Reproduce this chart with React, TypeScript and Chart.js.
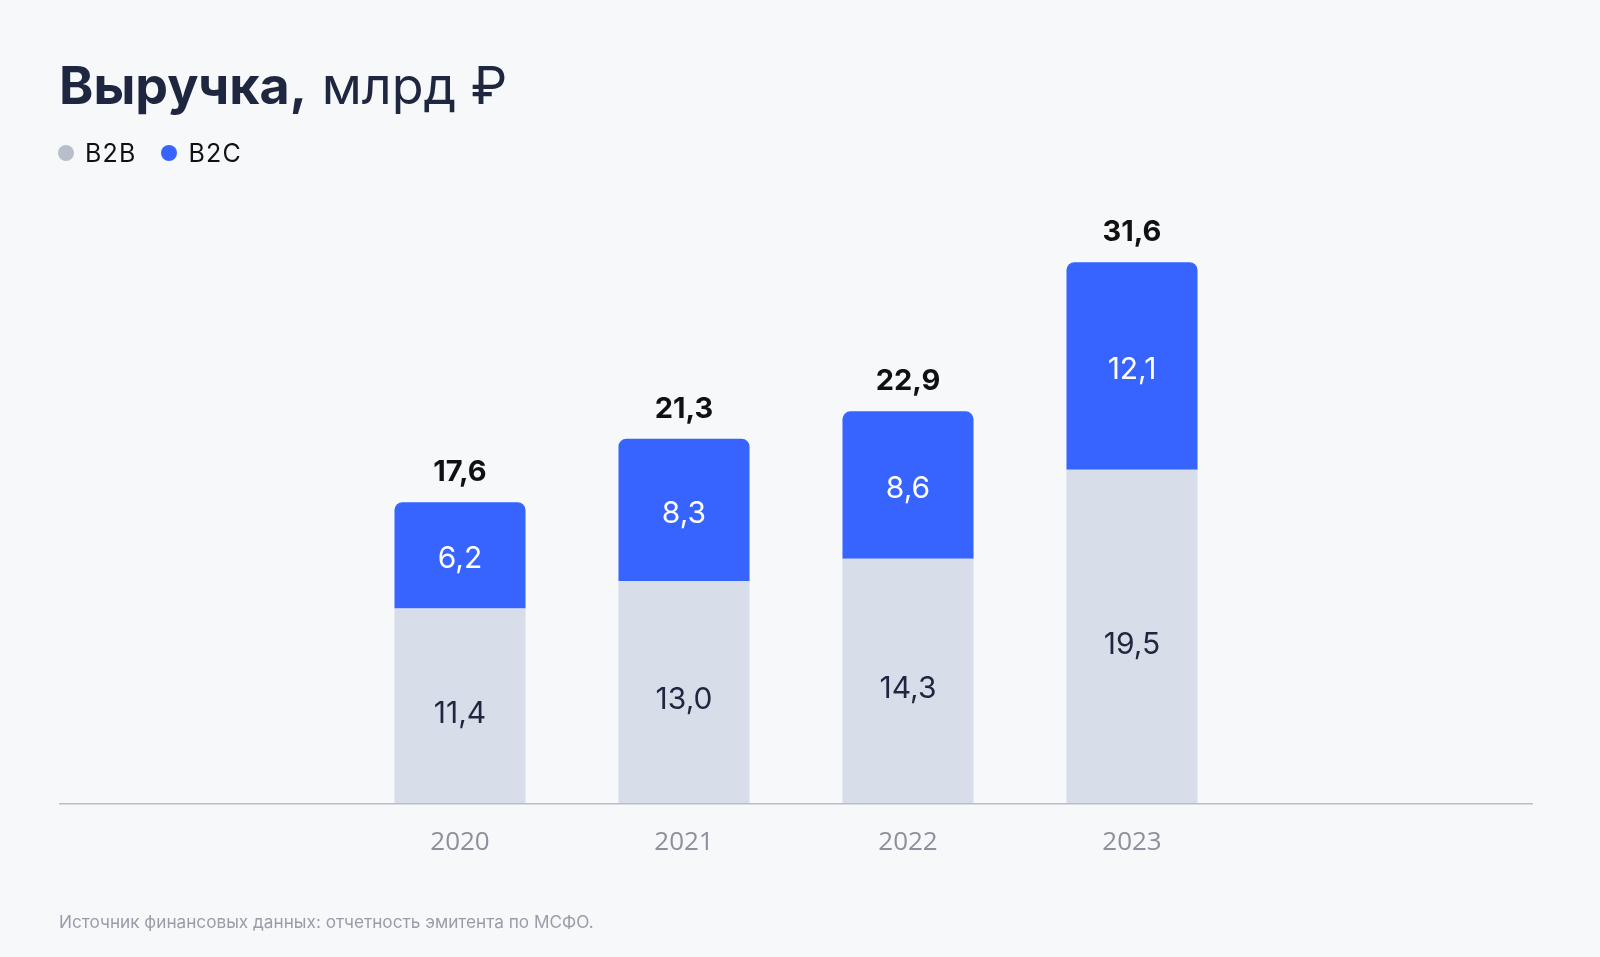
import React, { useEffect, useRef } from "react";
import { Chart, registerables } from "chart.js";

Chart.register(...registerables);

const years = ["2020", "2021", "2022", "2023"];
const b2b = [11.4, 13.0, 14.3, 19.5];
const b2c = [6.2, 8.3, 8.6, 12.1];
const totals = [17.6, 21.3, 22.9, 31.6];

const BG = "#F7F8FA";
const BLUE = "#3763FF";
const GREY_BAR = "#D8DEE9";
const DARK = "#1F2640";
const FONT = "Inter, 'Open Sans', sans-serif";

const fmt = (v: number) => v.toFixed(1).replace(".", ",");

const labelsPlugin = {
  id: "valueLabels",
  afterDatasetsDraw(chart: any) {
    const ctx = chart.ctx;
    const yScale = chart.scales.y;
    const y0 = yScale.getPixelForValue(0);
    ctx.save();
    ctx.strokeStyle = "#B9BDC6";
    ctx.lineWidth = 1.5;
    ctx.beginPath();
    ctx.moveTo(59, y0);
    ctx.lineTo(1533, y0);
    ctx.stroke();

    ctx.textAlign = "center";
    ctx.textBaseline = "middle";
    const m0 = chart.getDatasetMeta(0);
    const m1 = chart.getDatasetMeta(1);
    m0.data.forEach((bar: any, i: number) => {
      ctx.fillStyle = DARK;
      ctx.font = `400 30px ${FONT}`;
      ctx.fillText(fmt(b2b[i]), bar.x, (bar.y + bar.base) / 2 + 8);
    });
    m1.data.forEach((bar: any, i: number) => {
      ctx.fillStyle = "#FFFFFF";
      ctx.font = `400 30px ${FONT}`;
      ctx.fillText(fmt(b2c[i]), bar.x, (bar.y + bar.base) / 2 + 4);
      ctx.fillStyle = "#111111";
      ctx.font = `700 29px ${FONT}`;
      ctx.textBaseline = "alphabetic";
      ctx.fillText(fmt(totals[i]), bar.x, bar.y - 21);
      ctx.textBaseline = "middle";
    });
    ctx.restore();
  },
};

export default function App() {
  const ref = useRef<HTMLCanvasElement | null>(null);

  useEffect(() => {
    if (!ref.current) return;
    const chart = new Chart(ref.current, {
      type: "bar",
      data: {
        labels: years,
        datasets: [
          {
            label: "B2B",
            data: b2b,
            backgroundColor: GREY_BAR,
            borderWidth: 0,
            borderRadius: 0,
          },
          {
            label: "B2C",
            data: b2c,
            backgroundColor: BLUE,
            borderWidth: 0,
            borderSkipped: false,
            borderRadius: { topLeft: 8, topRight: 8, bottomLeft: 0, bottomRight: 0 },
          },
        ],
      },
      options: {
        responsive: false,
        animation: false,
        layout: { padding: { left: 348, right: 356, top: 204, bottom: 76 } },
        datasets: { bar: { barPercentage: 0.585, categoryPercentage: 1 } },
        plugins: {
          legend: { display: false },
          tooltip: { enabled: false },
          title: { display: false },
        },
        scales: {
          x: {
            stacked: true,
            grid: { display: false, drawTicks: false },
            border: { display: false },
            ticks: {
              color: "#8C909C",
              font: { family: "'Open Sans', sans-serif", size: 26 },
              padding: 23,
            },
          },
          y: {
            stacked: true,
            display: false,
            min: 0,
            max: 35,
          },
        },
      },
      plugins: [labelsPlugin],
    });
    return () => chart.destroy();
  }, []);

  return (
    <div
      style={{
        position: "fixed",
        left: 0,
        top: 0,
        width: 1600,
        height: 957,
        background: BG,
        overflow: "hidden",
      }}
    >
      <canvas
        ref={ref}
        width={1600}
        height={957}
        style={{ position: "absolute", left: 0, top: 0, width: 1600, height: 957 }}
      />
      <div
        style={{
          position: "absolute",
          left: 59,
          top: 54,
          fontFamily: FONT,
          fontSize: 52,
          color: DARK,
          lineHeight: "64px",
          whiteSpace: "nowrap",
        }}
      >
        <span style={{ fontWeight: 700 }}>Выручка,</span>
        <span style={{ fontWeight: 400 }}> млрд ₽</span>
      </div>
      <div
        style={{
          position: "absolute",
          left: 58,
          top: 139,
          display: "flex",
          alignItems: "center",
          fontFamily: FONT,
          fontSize: 25,
          letterSpacing: 1.2,
          color: "#111111",
          lineHeight: "28px",
          whiteSpace: "nowrap",
        }}
      >
        <span style={{ width: 16, height: 16, borderRadius: 8, background: "#B8BECC", display: "inline-block", marginRight: 11 }} />
        <span>B2B</span>
        <span style={{ width: 16, height: 16, borderRadius: 8, background: BLUE, display: "inline-block", marginLeft: 24, marginRight: 12 }} />
        <span>B2C</span>
      </div>
      <div
        style={{
          position: "absolute",
          left: 59,
          top: 911,
          fontFamily: FONT,
          fontSize: 17.2,
          color: "#9A9DA8",
          lineHeight: "22px",
          whiteSpace: "nowrap",
        }}
      >
        Источник финансовых данных: отчетность эмитента по МСФО.
      </div>
    </div>
  );
}
